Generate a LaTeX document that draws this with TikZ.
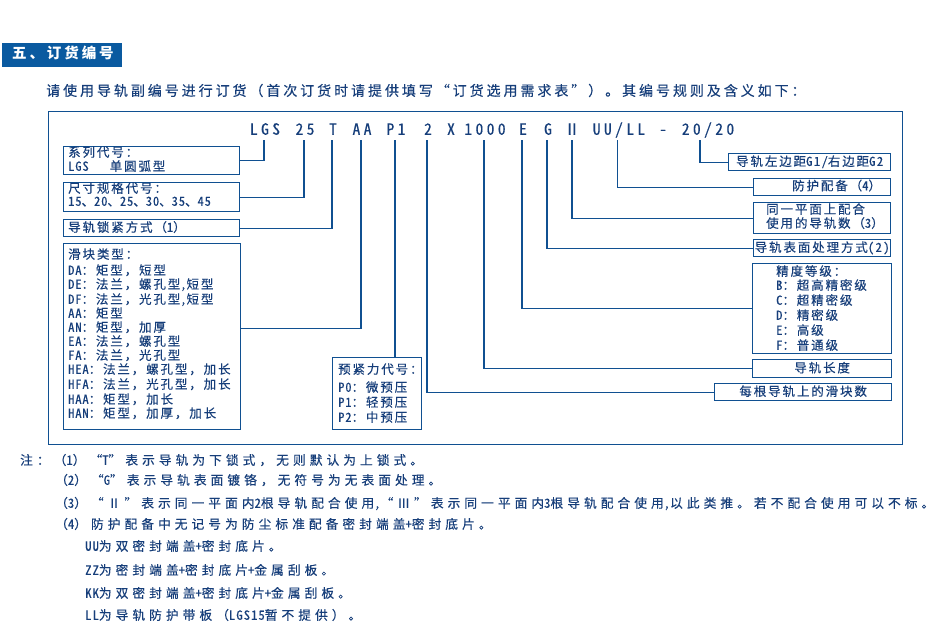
\documentclass[tikz,border=0pt]{standalone}
\usepackage{fontspec}
\usetikzlibrary{calc}
\setmainfont{Noto Sans CJK SC}
\newfontfamily\fHd{Noto Sans CJK SC}[LetterSpace=20]
\newfontfamily\fIn{Noto Sans CJK SC}[LetterSpace=21,RawFeature=+fwid,FakeBold=0.3]
\newfontfamily\fBx{Noto Sans CJK SC}[LetterSpace=15,RawFeature=+fwid,FakeBold=0.3]
\newfontfamily\fBxh{Noto Sans CJK SC}[LetterSpace=7,RawFeature=+hwid,FakeBold=0.3]
\newfontfamily\fRt{Noto Sans CJK SC}[LetterSpace=15,RawFeature=+fwid,FakeBold=0.3]
\newfontfamily\fRth{Noto Sans CJK SC}[LetterSpace=12,RawFeature=+hwid,FakeBold=0.3]
\newfontfamily\fNt{Noto Sans CJK SC}[LetterSpace=32,RawFeature=+fwid,FakeBold=0.3]
\newfontfamily\fNth{Noto Sans CJK SC}[LetterSpace=8,RawFeature=+hwid,FakeBold=0.3]
\newfontfamily\fCd{Noto Sans CJK SC}[LetterSpace=22,RawFeature=+hwid,FakeBold=0.4]
\newcommand\curhw{}
\newcommand\ltn[1]{{\curhw #1}}
\newcommand\useBx{\fBx\fontsize{12.5}{14}\selectfont\let\curhw\fBxh}
\newcommand\useRt{\fRt\fontsize{12.5}{14}\selectfont\let\curhw\fRth}
\newcommand\useNt{\fNt\fontsize{12.7}{14}\selectfont\let\curhw\fNth}
\newcommand\useCd{\fCd\fontsize{15.5}{16}\selectfont}
\newcommand\useIn{\fIn\fontsize{14}{16}\selectfont}
\newcommand\useHd{\fHd\bfseries\fontsize{14.5}{16}\selectfont}
\definecolor{lnc}{RGB}{16,80,145}
\definecolor{txc}{RGB}{22,62,122}
\definecolor{hdc}{RGB}{10,90,160}
\tikzset{
  ln/.style={draw=lnc, line width=1.3pt},
  bx/.style={draw=lnc, line width=1.3pt, rectangle, inner sep=0pt, anchor=north west},
  txt/.style={text=txc, inner sep=0pt, anchor=west, text height=0.88em, text depth=0.12em},
  tb/.style={txt, font=\useBx},
  tr/.style={txt, font=\useRt},
  tn/.style={txt, font=\useNt},
  cd/.style={text=txc, inner sep=0pt, font=\useCd, minimum height=18pt, text height=0.75em, text depth=0pt},
}
\begin{document}
\begin{tikzpicture}[x=1pt,y=-1pt]
\useasboundingbox[fill=white] (0,0) rectangle (952,629);
% header
\node[fill=hdc, inner sep=0pt, minimum width=120pt, minimum height=24pt, anchor=north west] (hd) at (2,43) {};
\node[txt, text=white, font=\useHd] (hdt) at (12,55) {五、订货编号};
\node[txt, font=\useIn] (intro) at (46,92) {请使用导轨副编号进行订货（首次订货时请提供填写“订货选用需求表”）。其编号规则及含义如下：};
% frame
\node[bx, minimum width=854pt, minimum height=333pt] (frame) at (48,111) {};
% code tokens
\node[cd] (c1) at (265,131) {LGS};
\node[cd] (c2) at (305,131) {25};
\node[cd] (c3) at (333,131) {T};
\node[cd] (c4) at (362,131) {AA};
\node[cd] (c5) at (396,131) {P1};
\node[cd] (c6) at (428,131) {2};
\node[cd] (c7) at (451,131) {X};
\node[cd] (c8) at (485,131) {1000};
\node[cd] (c9) at (523,131) {E};
\node[cd] (c10) at (548,131) {G};
\node[cd] (c11) at (572,131) {Ⅱ};
\node[cd] (c12) at (619,131) {UU/LL};
\node[cd] (c13) at (663,131) {-};
\node[cd] (c14) at (708,131) {20/20};
% left boxes
\node[bx, minimum width=176pt, minimum height=28pt] (b1) at (63,146) {};
\node[tb] (b1a) at (68,153) {系列代号：};
\node[tb] (b1b) at (68,167) {\ltn{LGS}\hspace{21pt}单圆弧型};
\node[bx, minimum width=176pt, minimum height=29pt] (b2) at (63,182) {};
\node[tb] (b2a) at (68,189) {尺寸规格代号：};
\node[tb] (b2b) at (68,202) {\ltn{15}、\ltn{20}、\ltn{25}、\ltn{30}、\ltn{35}、\ltn{45}};
\node[bx, minimum width=176pt, minimum height=17pt] (b3) at (63,219) {};
\node[tb] (b3a) at (68,228) {导轨锁紧方式（\ltn{1}）};
\node[bx, minimum width=177pt, minimum height=186pt] (b4) at (63,243) {};
\node[tb] (s0) at (68,255) {滑块类型：};
\node[tb] (s1) at (68,271) {\ltn{DA}：矩型，短型};
\node[tb] (s2) at (68,285) {\ltn{DE}：法兰，螺孔型\ltn{,}短型};
\node[tb] (s3) at (68,300) {\ltn{DF}：法兰，光孔型\ltn{,}短型};
\node[tb] (s4) at (68,314) {\ltn{AA}：矩型};
\node[tb] (s5) at (68,328) {\ltn{AN}：矩型，加厚};
\node[tb] (s6) at (68,342) {\ltn{EA}：法兰，螺孔型};
\node[tb] (s7) at (68,356) {\ltn{FA}：法兰，光孔型};
\node[tb] (s8) at (68,370) {\ltn{HEA}：法兰，螺孔型，加长};
\node[tb] (s9) at (68,385) {\ltn{HFA}：法兰，光孔型，加长};
\node[tb] (s10) at (68,400) {\ltn{HAA}：矩型，加长};
\node[tb] (s11) at (68,414) {\ltn{HAN}：矩型，加厚，加长};
\node[bx, minimum width=89pt, minimum height=72pt] (b5) at (332,357) {};
\node[tb] (p0) at (338,370) {预紧力代号：};
\node[tb] (p1) at (338,388) {\ltn{P0}：微预压};
\node[tb] (p2) at (338,403) {\ltn{P1}：轻预压};
\node[tb] (p3) at (338,418) {\ltn{P2}：中预压};
% right boxes
\node[bx, minimum width=162pt, minimum height=17pt] (b7) at (728,153) {};
\node[tr, anchor=center] (t7) at (b7.center) {导轨左边距\ltn{G1/}右边距\ltn{G2}};
\node[bx, minimum width=137pt, minimum height=17pt] (b8) at (753,178) {};
\node[tr] (t8) at (792,186.5) {防护配备（\ltn{4}）};
\node[bx, minimum width=137pt, minimum height=31pt] (b9) at (753,202) {};
\node[tr] (t9a) at (766,210) {同一平面上配合};
\node[tr] (t9b) at (766,224) {使用的导轨数（\ltn{3}）};
\node[bx, minimum width=137pt, minimum height=17pt] (b10) at (753,239) {};
\node[tr, anchor=center] (t10) at (b10.center) {导轨表面处理方式\ltn{(2)}};
\node[bx, minimum width=139pt, minimum height=90pt] (b11) at (752,263) {};
\node[tr] (e0) at (776,272) {精度等级：};
\node[tr] (e1) at (776,286) {\ltn{B}：超高精密级};
\node[tr] (e2) at (776,301) {\ltn{C}：超精密级};
\node[tr] (e3) at (776,316) {\ltn{D}：精密级};
\node[tr] (e4) at (776,331) {\ltn{E}：高级};
\node[tr] (e5) at (776,346) {\ltn{F}：普通级};
\node[bx, minimum width=139pt, minimum height=18pt] (b12) at (752,359) {};
\node[tr, anchor=center] (t12) at (b12.center) {导轨长度};
\node[bx, minimum width=177pt, minimum height=17pt] (b6) at (714,383) {};
\node[tr, anchor=center] (t6) at (b6.center) {每根导轨上的滑块数};
% connectors
\draw[ln] ([xshift=-1pt]c1.south) |- (b1.east);
\draw[ln] ([xshift=-1pt]c2.south) |- (b2.east);
\draw[ln] ([xshift=-1pt]c3.south) |- (b3.east);
\draw[ln] ([xshift=-1pt]c4.south) |- ($(b4.north east)!0.457!(b4.south east)$);
\draw[ln] ([xshift=-1pt]c5.south) -- ([xshift=-1pt]c5.south |- b5.north);
\draw[ln] ([xshift=-1pt]c6.south) |- (b6.west);
\draw[ln] ([xshift=-1pt]c8.south) |- (b12.west);
\draw[ln] ([xshift=-1pt]c9.south) |- (b11.west);
\draw[ln] ([xshift=-1pt]c10.south) |- (b10.west);
\draw[ln] (c11.south) |- (b9.west);
\draw[ln] ([xshift=-1.5pt]c12.south) |- (b8.west);
\draw[ln] ([xshift=-8pt]c14.south) |- (b7.west);
% notes
\node[tn] (n1) at (20,461) {注：（\ltn{1}）“\ltn{T}”表示导轨为下锁式，无则默认为上锁式。};
\node[tn] (n2) at (55,481) {（\ltn{2}）“\ltn{G}”表示导轨表面镀铬，无符号为无表面处理。};
\node[tn] (n3) at (55,504) {（\ltn{3}）“Ⅱ”表示同一平面内\ltn{2}根导轨配合使用\ltn{,}“Ⅲ”表示同一平面内\ltn{3}根导轨配合使用\ltn{,}以此类推。若不配合使用可以不标。};
\node[tn] (n4) at (55,525) {（\ltn{4}）防护配备中无记号为防尘标准配备密封端盖\ltn{+}密封底片。};
\node[tn] (n5) at (85,547) {\ltn{UU}为双密封端盖\ltn{+}密封底片。};
\node[tn] (n6) at (85,571) {\ltn{ZZ}为密封端盖\ltn{+}密封底片\ltn{+}金属刮板。};
\node[tn] (n7) at (85,594) {\ltn{KK}为双密封端盖\ltn{+}密封底片\ltn{+}金属刮板。};
\node[tn] (n8) at (85,616) {\ltn{LL}为导轨防护带板（\ltn{LGS15}暂不提供）。};
\end{tikzpicture}
\end{document}
